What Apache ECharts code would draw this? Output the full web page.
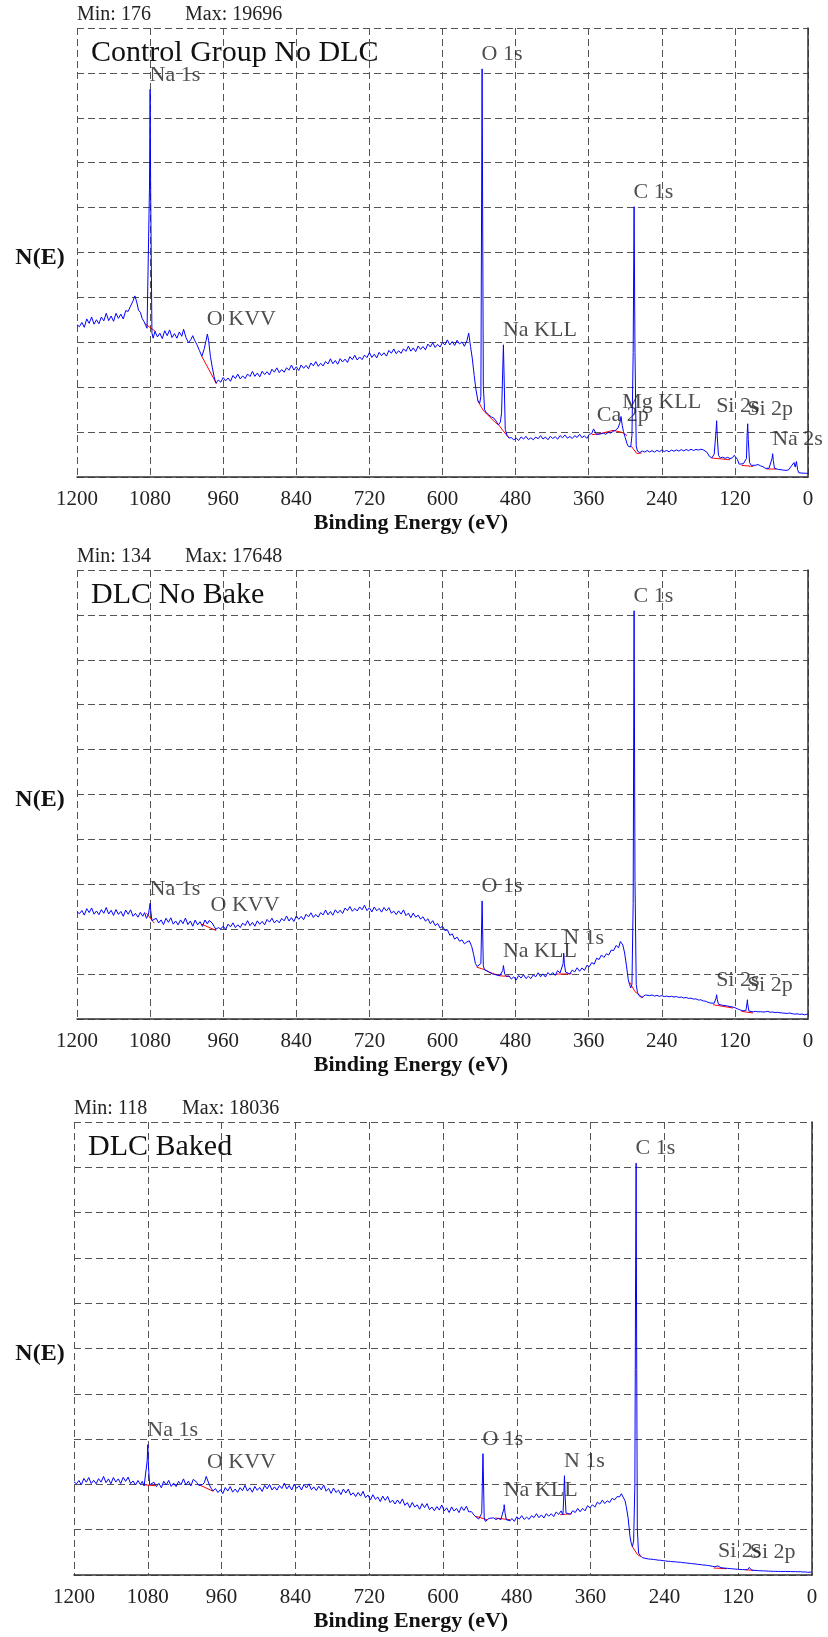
<!DOCTYPE html>
<html>
<head>
<meta charset="utf-8">
<script src="https://cdn.jsdelivr.net/npm/echarts@6/dist/echarts.min.js"></script>
<style>
html,body{margin:0;padding:0;background:#fff;}
#chart{width:828px;height:1637px;}
</style>
</head>
<body>
<div id="chart"></div>
<script>
var titles = ['Control Group No DLC', 'DLC No Bake', 'DLC Baked'];
var minCounts = [176, 134, 118];
var maxCounts = [19696, 17648, 18036];

// binding energy (eV), counts
var spec1 = [
[1200,7350],[1196,7255],[1192,7460],[1188,7225],[1184,7630],[1180,7415],[1176,7720],[1172,7375],[1168,7590],[1164,7395],
[1160,7720],[1156,7535],[1152,7900],[1148,7545],[1144,7770],[1140,7515],[1136,7900],[1132,7655],[1128,7860],[1124,7625],
[1120,8030],[1116,7990],[1112,8250],[1108,8500],[1105,8740],[1102,8450],[1099,8050],[1096,7950],[1093,7650],[1090,7500],
[1087,7300],[1085,7180],[1083,7150],[1081,14000],[1080,18709],[1079,13500],[1077,6950],[1075,6700],[1072,7030],[1068,6760],
[1064,6940],[1060,6680],[1056,7060],[1052,6820],[1048,7100],[1044,6730],[1040,6920],[1036,6700],[1032,7000],[1028,6790],
[1025,7130],[1021,6720],[1017,6480],[1013,6640],[1010,6820],[1007,6600],[1003,6380],[999,6100],[995,5820],[991,6200],
[988,6600],[986,6900],[984,6600],[981,5820],[978,5300],[975,4850],[972,4530],[968,4680],[964,4580],[960,4800],
[956,4639],[952,4778],[948,4617],[944,4896],[940,4755],[936,4964],[932,4733],[928,4882],[924,4751],[920,4970],
[916,4849],[912,5098],[908,4857],[904,5016],[900,4835],[896,5104],[892,4943],[888,5082],[884,4921],[880,5200],
[876,5059],[872,5268],[868,5037],[864,5186],[860,5055],[856,5274],[852,5153],[848,5402],[844,5161],[840,5320],
[836,5139],[832,5408],[828,5247],[824,5386],[820,5225],[816,5504],[812,5363],[808,5572],[804,5341],[800,5490],
[796,5359],[792,5578],[788,5457],[784,5706],[780,5465],[776,5624],[772,5443],[768,5712],[764,5551],[760,5690],
[756,5529],[752,5808],[748,5667],[744,5876],[740,5645],[736,5794],[732,5663],[728,5882],[724,5761],[720,6010],
[716,5769],[712,5928],[708,5747],[704,6016],[700,5855],[696,5994],[692,5833],[688,6112],[684,5971],[680,6180],
[676,5949],[672,6098],[668,5967],[664,6186],[660,6065],[656,6314],[652,6073],[648,6232],[644,6051],[640,6320],
[636,6159],[632,6298],[628,6137],[624,6416],[620,6275],[616,6484],[612,6253],[608,6402],[604,6271],[600,6490],
[596,6369],[592,6618],[588,6377],[584,6536],[580,6350],[576,6600],[572,6420],[568,6520],[564,6310],[560,6570],
[557,6943],[554,6300],[551,5700],[548,4900],[545,4200],[542,3700],[539,3550],[537,3900],[535,19696],[533,4400],
[531,3250],[528,3100],[524,3000],[520,2900],[516,2850],[512,2700],[508,2520],[505,2650],[503,3100],[500,6380],
[497,2300],[494,2000],[491,1880],[487,1900],[483,1794],[479,1878],[475,1762],[471,1936],[467,1830],[463,1964],
[459,1808],[455,1892],[451,1796],[447,1930],[443,1844],[439,1998],[435,1832],[431,1926],[427,1800],[423,1964],
[419,1858],[415,1942],[411,1826],[407,2000],[403,1894],[399,2028],[395,1872],[391,1956],[387,1860],[383,1994],
[379,1908],[375,2062],[371,1896],[367,1990],[363,1864],[359,2060],[355,2100],[352,2320],[350,2280],[347,2050],
[344,1990],[340,2080],[336,2120],[332,2060],[328,2160],[324,2120],[320,2200],[316,2260],[312,2360],[309,2600],
[307,2920],[305,2500],[303,2200],[300,1900],[297,1600],[295,1480],[291,1450],[289,2000],[287,6000],[285.5,13048],
[284,6000],[282,1500],[280,1250],[276,1180],[272,1260],[268,1200],[264,1280],[260,1210],[256,1270],[252,1200],
[248,1290],[244,1220],[240,1300],[236,1230],[232,1280],[228,1220],[224,1300],[220,1240],[216,1310],[212,1250],
[208,1320],[204,1260],[200,1330],[196,1270],[192,1340],[188,1280],[184,1330],[180,1300],[176,1340],[172,1310],
[169,1350],[166,1200],[162,1000],[158,920],[154,1100],[151,2200],[150,2715],[149,2000],[147,1050],[144,920],
[140,960],[136,900],[132,950],[128,890],[124,930],[121,1050],[119,1080],[116,850],[113,620],[110,600],
[106,640],[103,620],[101,900],[100,2000],[99,2570],[98,1800],[96,700],[93,560],[90,600],[86,570],
[82,600],[78,540],[74,500],[70,420],[67,390],[64,420],[61,450],[59,900],[58,1124],[57,800],
[55,420],[52,390],[48,360],[44,350],[40,330],[36,320],[32,340],[29,400],[27,540],[25,480],
[23,700],[21,480],[19,750],[17,350],[15,200],[12,190],[8,185],[4,180],[0,176]
];
var spec2 = [
[1200,4640],[1196,4550],[1192,4690],[1188,4490],[1184,4770],[1180,4600],[1176,4800],[1172,4530],[1168,4670],[1164,4510],
[1160,4730],[1156,4570],[1152,4820],[1148,4540],[1144,4700],[1140,4480],[1136,4730],[1132,4520],[1128,4650],[1124,4440],
[1120,4710],[1116,4530],[1112,4720],[1108,4440],[1104,4570],[1100,4400],[1096,4610],[1092,4440],[1089,4600],[1086,4350],
[1083,4500],[1081,4800],[1080,5004],[1079,4700],[1077,4250],[1074,4200],[1070,4355],[1066,4150],[1062,4285],[1058,4080],
[1054,4355],[1050,4180],[1046,4375],[1042,4100],[1038,4235],[1034,4070],[1030,4285],[1026,4120],[1022,4365],[1018,4080],
[1014,4235],[1010,4010],[1006,4275],[1002,4070],[998,4205],[994,4000],[990,4280],[986,4110],[983,4260],[981,4300],
[978,4150],[975,4000],[972,3880],[968,3950],[964,3893],[960,4015],[956,3868],[952,4101],[948,3983],[944,4156],
[940,3949],[936,4071],[932,3954],[928,4147],[924,4039],[920,4252],[916,4035],[912,4177],[908,4010],[904,4243],
[900,4095],[896,4218],[892,4071],[888,4303],[884,4186],[880,4359],[876,4151],[872,4274],[868,4157],[864,4349],
[860,4242],[856,4455],[852,4237],[848,4380],[844,4217],[840,4453],[836,4310],[832,4437],[828,4293],[824,4530],
[820,4417],[816,4593],[812,4390],[808,4517],[804,4403],[800,4600],[796,4497],[792,4713],[788,4500],[784,4647],
[780,4483],[776,4720],[772,4577],[768,4703],[764,4560],[760,4797],[756,4683],[752,4860],[748,4657],[744,4783],
[740,4670],[736,4846],[732,4722],[728,4918],[724,4684],[720,4810],[716,4626],[712,4842],[708,4678],[704,4784],
[700,4620],[696,4821],[692,4671],[688,4812],[684,4573],[680,4663],[676,4514],[672,4675],[668,4535],[664,4716],
[660,4467],[656,4577],[652,4378],[648,4579],[644,4399],[640,4490],[636,4320],[632,4420],[628,4230],[624,4330],
[620,4120],[616,4250],[612,4040],[608,4130],[604,3930],[600,4010],[596,3820],[592,3860],[588,3620],[584,3680],
[580,3450],[576,3540],[572,3360],[568,3420],[564,3250],[560,3330],[556,3380],[552,3130],[549,2800],[546,2400],
[543,2270],[540,2200],[537,2400],[535,5103],[533,2300],[531,2130],[528,2080],[525,2050],[522,1980],[518,1950],
[514,1920],[510,1900],[506,1870],[503,1900],[501,2100],[500,2312],[498,1950],[495,1840],[491,1865],[487,1730],
[483,1825],[479,1680],[475,1879],[471,1769],[467,1918],[463,1748],[459,1847],[455,1746],[451,1906],[447,1824],
[443,1999],[439,1824],[435,1949],[431,1814],[427,2009],[423,1894],[419,2009],[415,1884],[411,2090],[407,1990],
[404,2040],[402,2400],[401,2847],[400,2400],[398,2030],[395,2040],[391,1945],[387,2115],[383,2035],[379,2215],
[375,2060],[371,2210],[367,2100],[363,2320],[359,2260],[355,2440],[351,2370],[347,2630],[343,2570],[339,2770],
[335,2660],[331,2820],[327,2770],[323,2980],[319,2960],[315,3180],[311,3080],[308,3350],[306,3421],[304,3200],
[301,2850],[298,2300],[295,1700],[293,1500],[291,1340],[289,1500],[287,5000],[285.5,17648],[284,6000],[282,1500],
[280,1150],[277,1000],[273,930],[270,1000],[267,1040],[264,1060],[260,1010],[256,1040],[252,990],[248,1020],
[244,980],[240,1010],[236,970],[232,990],[228,960],[224,980],[220,950],[216,970],[212,930],[208,950],
[204,910],[200,930],[196,890],[192,900],[188,860],[184,870],[180,820],[176,830],[172,780],[168,770],
[164,720],[160,690],[157,640],[154,680],[151,900],[150,1048],[149,850],[147,640],[144,620],[140,590],
[136,580],[132,560],[128,540],[124,520],[120,490],[116,440],[112,400],[108,360],[105,340],[102,360],
[100,700],[99.5,833],[99,650],[97,340],[94,320],[90,310],[86,330],[82,305],[78,320],[74,300],
[70,310],[66,330],[62,290],[58,300],[54,280],[50,290],[46,270],[42,260],[38,250],[34,240],
[30,260],[26,230],[22,210],[18,225],[14,200],[10,215],[6,180],[4,134],[2,205],[0,210]
];
var spec3 = [
[1200,4080],[1196,3995],[1192,4140],[1188,3945],[1184,4230],[1180,4065],[1176,4270],[1172,4005],[1168,4150],[1164,3995],
[1160,4220],[1156,4065],[1152,4320],[1148,4045],[1144,4210],[1140,3995],[1136,4270],[1132,4070],[1128,4210],[1124,4005],
[1120,4280],[1116,4100],[1112,4290],[1108,4000],[1104,4120],[1100,3940],[1096,4140],[1092,3960],[1089,4100],[1086,3900],
[1083,3950],[1081,5000],[1080,5707],[1079,4800],[1077,3950],[1074,3960],[1070,4065],[1066,3870],[1062,4015],[1058,3820],
[1054,4105],[1050,3940],[1046,4145],[1042,3880],[1038,4025],[1034,3870],[1030,4100],[1026,3950],[1022,4210],[1018,3940],
[1014,4110],[1010,3900],[1006,4190],[1003,4190],[1000,4050],[997,3920],[994,3980],[991,3960],[988,4050],[985,4320],
[983,4250],[980,3950],[977,3800],[974,3680],[970,3786],[966,3612],[962,3738],[958,3564],[954,3830],[950,3676],
[946,3872],[942,3628],[938,3764],[934,3620],[930,3826],[926,3692],[922,3928],[918,3674],[914,3820],[910,3626],
[906,3882],[902,3708],[898,3834],[894,3660],[890,3926],[886,3772],[882,3968],[878,3724],[874,3860],[870,3716],
[866,3922],[862,3788],[858,4024],[854,3770],[850,3916],[846,3722],[842,3978],[838,3797],[834,3910],[830,3723],
[826,3976],[822,3809],[818,3992],[814,3735],[810,3858],[806,3701],[802,3888],[798,3731],[794,3945],[790,3669],
[786,3793],[782,3576],[778,3810],[774,3614],[770,3717],[766,3521],[762,3765],[758,3589],[754,3762],[750,3495],
[746,3605],[742,3435],[738,3615],[734,3455],[730,3665],[726,3385],[722,3505],[718,3285],[714,3515],[710,3315],
[706,3415],[702,3215],[698,3455],[694,3269],[690,3442],[686,3170],[682,3279],[678,3107],[674,3286],[670,3125],
[666,3333],[662,3052],[658,3170],[654,2949],[650,3178],[646,2976],[642,3075],[638,2880],[634,3126],[630,2951],
[626,3127],[622,2862],[618,2977],[614,2813],[610,2998],[606,2844],[602,3068],[598,2805],[594,2941],[590,2737],
[586,2984],[582,2800],[578,2916],[574,2733],[570,2989],[566,2825],[562,3012],[558,2760],[554,2780],[551,2700],
[548,2580],[545,2500],[542,2450],[539,2480],[537,2700],[535,5313],[533,2500],[531,2350],[528,2400],[525,2480],
[522,2420],[518,2500],[514,2430],[510,2480],[506,2420],[503,2500],[501,2900],[500.5,3079],[499,2700],[497,2420],
[494,2495],[491,2370],[488,2475],[484,2350],[480,2553],[476,2446],[472,2599],[468,2432],[464,2535],[460,2438],
[456,2601],[452,2514],[448,2687],[444,2510],[440,2633],[436,2496],[432,2689],[428,2572],[424,2685],[420,2558],
[416,2761],[412,2654],[408,2807],[405,2630],[403.5,3500],[402.5,4349],[401.5,3500],[400,2720],[397,2750],[393,2655],
[389,2820],[385,2735],[381,2920],[377,2770],[373,2920],[369,2810],[365,3035],[361,2945],[357,3078],[353,2970],
[349,3192],[345,3105],[341,3277],[337,3130],[333,3250],[329,3175],[325,3360],[321,3290],[317,3433],[313,3420],
[310,3560],[309,3592],[307,3500],[304,3250],[302,3000],[299,2500],[296,1700],[294,1400],[292,1250],[290,1500],
[288,4000],[287,12000],[286,18036],[285,9000],[284,2000],[282,960],[279,850],[276,760],[273,740],[270,725],
[266,700],[262,695],[258,680],[254,668],[250,650],[246,645],[242,628],[238,615],[234,600],[230,596],
[226,580],[222,578],[218,562],[214,560],[210,540],[206,533],[202,518],[198,508],[194,492],[190,484],
[186,468],[182,458],[178,440],[174,434],[170,418],[166,404],[162,380],[158,362],[155,340],[153,400],
[152,420],[151,380],[148,320],[145,312],[141,298],[137,292],[133,278],[129,272],[125,258],[121,252],
[117,242],[113,240],[109,232],[105,230],[103,280],[102,333],[101,260],[98,212],[95,200],[91,198],
[87,188],[83,186],[79,178],[75,176],[71,168],[67,166],[63,160],[59,162],[55,156],[51,158],
[47,152],[43,158],[39,148],[35,152],[31,144],[27,150],[23,140],[19,146],[15,130],[11,136],
[7,118],[3,126],[0,130]
];

// fitted backgrounds (red), one array per peak region
var bg1 = [
[[1088,7390],[1071,7020]],
[[995,5815],[971,4500]],
[[542.5,3694],[532.7,3197],[526.1,3004],[513.5,2633],[508.1,2522],[495.4,2040],[491.6,1929]],
[[355,2040],[340,2100],[320,2250],[305,2150],[297,2000]],
[[290,1480],[281,1130],[273,1160]],
[[158,916],[128,834]],
[[109,560],[90,511]],
[[68,386],[52,386]]
];
var bg2 = [
[[1086,4573],[1073,4141]],
[[995,4098],[971.5,3822]],
[[544,2243],[530,2127],[522,2010],[506,1868],[489,1838]],
[[413,1941],[388,1954]],
[[292.5,1579],[284.3,1191],[270.7,906]],
[[155.8,617],[123,475]],
[[109.3,328],[90.3,259]]
];
var bg3 = [
[[1087,3955],[1068,3911]],
[[996.7,3955],[973.4,3662]],
[[546,2567],[528.7,2422]],
[[515.2,2497],[490.8,2422]],
[[409.5,2641],[390.5,2685]],
[[292.9,1283],[283.7,889],[278.2,815]],
[[160,307],[138.3,276]],
[[108.6,232],[95,201]]
];

// peak labels: text, energy, counts at peak top
var peaks1 = [['Na 1s',1080,18709],['O KVV',986,6910],['O 1s',535,19696],['Na KLL',500,6380],['Ca 2p',346,2300],
  ['Mg KLL',304,2920],['C 1s',285.5,13048],['Si 2s',150,2715],['Si 2p',99,2570],['Na 2s',58,1124]];
var peaks2 = [['Na 1s',1080,5004],['O KVV',980,4297],['O 1s',535,5103],['Na KLL',500,2312],['N 1s',401,2847],
  ['C 1s',285.5,17648],['Si 2s',150,1048],['Si 2p',99.5,833]];
var peaks3 = [['Na 1s',1080,5707],['O KVV',983,4320],['O 1s',535,5313],['Na KLL',500.5,3079],['N 1s',402.5,4349],
  ['C 1s',286,18036],['Si 2s',152,420],['Si 2p',100.4,350]];

var specs = [spec1, spec2, spec3];
var bgs = [bg1, bg2, bg3];
var peaks = [peaks1, peaks2, peaks3];

var grids = [
  {left: 77, top: 28, width: 731, height: 449},
  {left: 77, top: 570, width: 731, height: 449},
  {left: 74, top: 1122, width: 738, height: 453}
];
var serif = "'Liberation Serif', 'DejaVu Serif', serif";
var dash = {type: [7, 4], color: '#555', width: 1};

var option = {animation: false, grid: [], xAxis: [], yAxis: [], series: [], graphic: []};

for (var i = 0; i < 3; i++) {
  var g = grids[i];
  var step = Math.round(maxCounts[i] * 0.11);
  option.grid.push({left: g.left, top: g.top, width: g.width, height: g.height});
  option.xAxis.push({
    type: 'value', gridIndex: i, min: 0, max: 1200, interval: 120, inverse: true,
    axisLine: {lineStyle: {color: '#333', width: 1.5}},
    axisTick: {show: false},
    axisLabel: {margin: 12, color: '#222', fontFamily: serif, fontSize: 21,
      formatter: function (v) { return String(v); }},
    splitLine: {show: true, lineStyle: dash}
  });
  option.yAxis.push({
    type: 'value', gridIndex: i, min: 0, max: step * 10, interval: step,
    axisLine: {show: true, lineStyle: {color: '#333', width: 1.5}},
    axisTick: {show: false},
    axisLabel: {show: false},
    splitLine: {show: true, lineStyle: dash}
  });
  bgs[i].forEach(function (seg) {
    option.series.push({type: 'line', xAxisIndex: i, yAxisIndex: i, data: seg, showSymbol: false,
      lineStyle: {color: '#ff0000', width: 1}, z: 2});
  });
  option.series.push({type: 'line', xAxisIndex: i, yAxisIndex: i, data: specs[i], showSymbol: false,
    sampling: null, lineStyle: {color: '#0000ff', width: 1}, z: 3});
  option.series.push({
    type: 'scatter', xAxisIndex: i, yAxisIndex: i, symbolSize: 1, z: 4,
    itemStyle: {color: 'rgba(0,0,0,0)'},
    data: peaks[i].map(function (p) { return [p[1], p[2], p[0]]; }),
    label: {show: true, position: [0, -3], align: 'left', verticalAlign: 'bottom',
      formatter: function (p) { return p.data[2]; },
      color: '#222', fontFamily: serif, fontSize: 22}
  });

  var bottom = g.top + g.height;
  option.graphic.push(
    {type: 'text', x: g.left, y: g.top - 3, style: {text: 'Min: ' + minCounts[i], font: '20px ' + serif, fill: '#222', textVerticalAlign: 'bottom'}},
    {type: 'text', x: g.left + 108, y: g.top - 3, style: {text: 'Max: ' + maxCounts[i], font: '20px ' + serif, fill: '#222', textVerticalAlign: 'bottom'}},
    {type: 'text', x: g.left + 14, y: g.top + 40, style: {text: titles[i], font: '30px ' + serif, fill: '#111', textVerticalAlign: 'bottom'}},
    {type: 'text', x: 40, y: g.top + g.height / 2 + 5, style: {text: 'N(E)', font: 'bold 24px ' + serif, fill: '#111', textAlign: 'center', textVerticalAlign: 'middle'}},
    {type: 'text', x: 411, y: bottom + 57, style: {text: 'Binding Energy (eV)', font: 'bold 22px ' + serif, fill: '#111', textAlign: 'center', textVerticalAlign: 'bottom'}}
  );
}

var myChart = echarts.init(document.getElementById('chart'));
myChart.setOption(option);
</script>
</body>
</html>
